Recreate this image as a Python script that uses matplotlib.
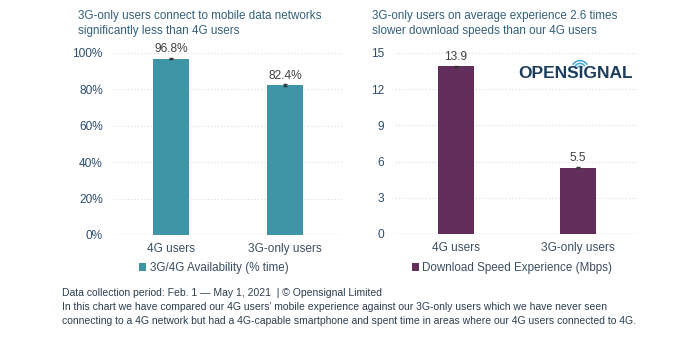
import numpy as np
import matplotlib.pyplot as plt
from matplotlib.patches import Arc

plt.rcParams['font.family'] = ['Liberation Sans', 'DejaVu Sans']

# data
groups = ['4G users', '3G-only users']
availability = [0.968, 0.824]
avail_labels = ['96.8%', '82.4%']
download = [13.9, 5.5]
dl_labels = ['13.9', '5.5']
avail_ticks = [0, 0.2, 0.4, 0.6, 0.8, 1.0]
avail_ticklabels = ['0%', '20%', '40%', '60%', '80%', '100%']
dl_ticks = [0, 3, 6, 9, 12, 15]

teal = '#3f94a6'
purple = '#622f5c'
title_col = '#34607a'
tick_col = '#2c4d6e'
grid_col = '#dcdcdc'

fig = plt.figure(figsize=(7, 3.41), dpi=100)
ax1 = fig.add_axes([0.1629, 0.3109, 0.3257, 0.5337])
ax2 = fig.add_axes([0.5643, 0.3138, 0.3486, 0.5308])

x = np.arange(len(groups))

def style(ax, ticks, ticklabels, top):
    ax.set_xlim(-0.5, 1.5)
    ax.set_ylim(0, top)
    ax.set_yticks(ticks)
    ax.set_yticklabels(ticklabels)
    ax.set_xticks(x)
    ax.set_xticklabels(groups)
    for s in ax.spines.values():
        s.set_visible(False)
    ax.tick_params(axis='both', length=0, labelsize=8.6, colors=tick_col)
    ax.tick_params(axis='y', pad=8)
    ax.tick_params(axis='x', pad=6, colors='#3b4f63')
    for t in ticks[1:]:
        ax.axhline(t, color=grid_col, lw=0.8, ls=(0, (1, 2)), zorder=0)
    ax.axhline(0, color=grid_col, lw=1.0, zorder=0)

style(ax1, avail_ticks, avail_ticklabels, 1.0)
b1 = ax1.bar(x, availability, width=0.31, color=teal, zorder=2,
             label='3G/4G Availability (% time)')
ax1.errorbar(x, availability, yerr=0.003, fmt='none', ecolor='#333333',
             elinewidth=0.8, capsize=1.5, zorder=3)
for xi, v, lab in zip(x, availability, avail_labels):
    ax1.annotate(lab, (xi, v), xytext=(0, 2.5), textcoords='offset points',
                 ha='center', va='bottom', fontsize=8.6, color='#404040')

style(ax2, dl_ticks, [str(t) for t in dl_ticks], 15)
b2 = ax2.bar(x, download, width=0.30, color=purple, zorder=2,
             label='Download Speed Experience (Mbps)')
ax2.errorbar(x, download, yerr=0.05, fmt='none', ecolor='#333333',
             elinewidth=0.8, capsize=1.5, zorder=3)
for xi, v, lab in zip(x, download, dl_labels):
    ax2.annotate(lab, (xi, v), xytext=(0, 2.5), textcoords='offset points',
                 ha='center', va='bottom', fontsize=8.6, color='#404040')

for ax, cx in [(ax1, 214 / 700), (ax2, 512 / 700)]:
    leg = ax.legend(loc='center', bbox_to_anchor=(cx, 1 - 268 / 341),
                    bbox_transform=fig.transFigure, frameon=False,
                    handlelength=0.6, handleheight=0.6, handletextpad=0.3,
                    fontsize=8.4)
    for t in leg.get_texts():
        t.set_color('#3b4f63')

# titles
fig.text(78 / 700, 1 - 23.5 / 341,
         '3G-only users connect to mobile data networks\nsignificantly less than 4G users',
         fontsize=8.4, color=title_col, va='center', ha='left', linespacing=1.3)
fig.text(372 / 700, 1 - 23.5 / 341,
         '3G-only users on average experience 2.6 times\nslower download speeds than our 4G users',
         fontsize=8.4, color=title_col, va='center', ha='left', linespacing=1.3)

# logo
fig.text(576 / 700, 1 - 74 / 341, 'OPENSIGNAL', fontsize=12.5, fontweight='bold',
         color='#1c3d5e', ha='center', va='center')
for r in [0.004, 0.008, 0.012]:
    fig.patches.append(Arc((580 / 700, 1 - 69 / 341), r * 2, r * 2 * 700 / 341,
                           theta1=50, theta2=130, color='#3fa9dc', lw=1.1,
                           transform=fig.transFigure))

# footer
footer = ('Data collection period: Feb. 1 \u2014 May 1, 2021  | \u00a9 Opensignal Limited\n'
          'In this chart we have compared our 4G users\u2019 mobile experience against our 3G-only users which we have never seen\n'
          'connecting to a 4G network but had a 4G-capable smartphone and spent time in areas where our 4G users connected to 4G.')
fig.text(62 / 700, 1 - 288 / 341, footer, fontsize=7.45, color='#2c3e50',
         va='top', ha='left', linespacing=1.5)

fig.savefig('out.png', dpi=100, facecolor='white')
